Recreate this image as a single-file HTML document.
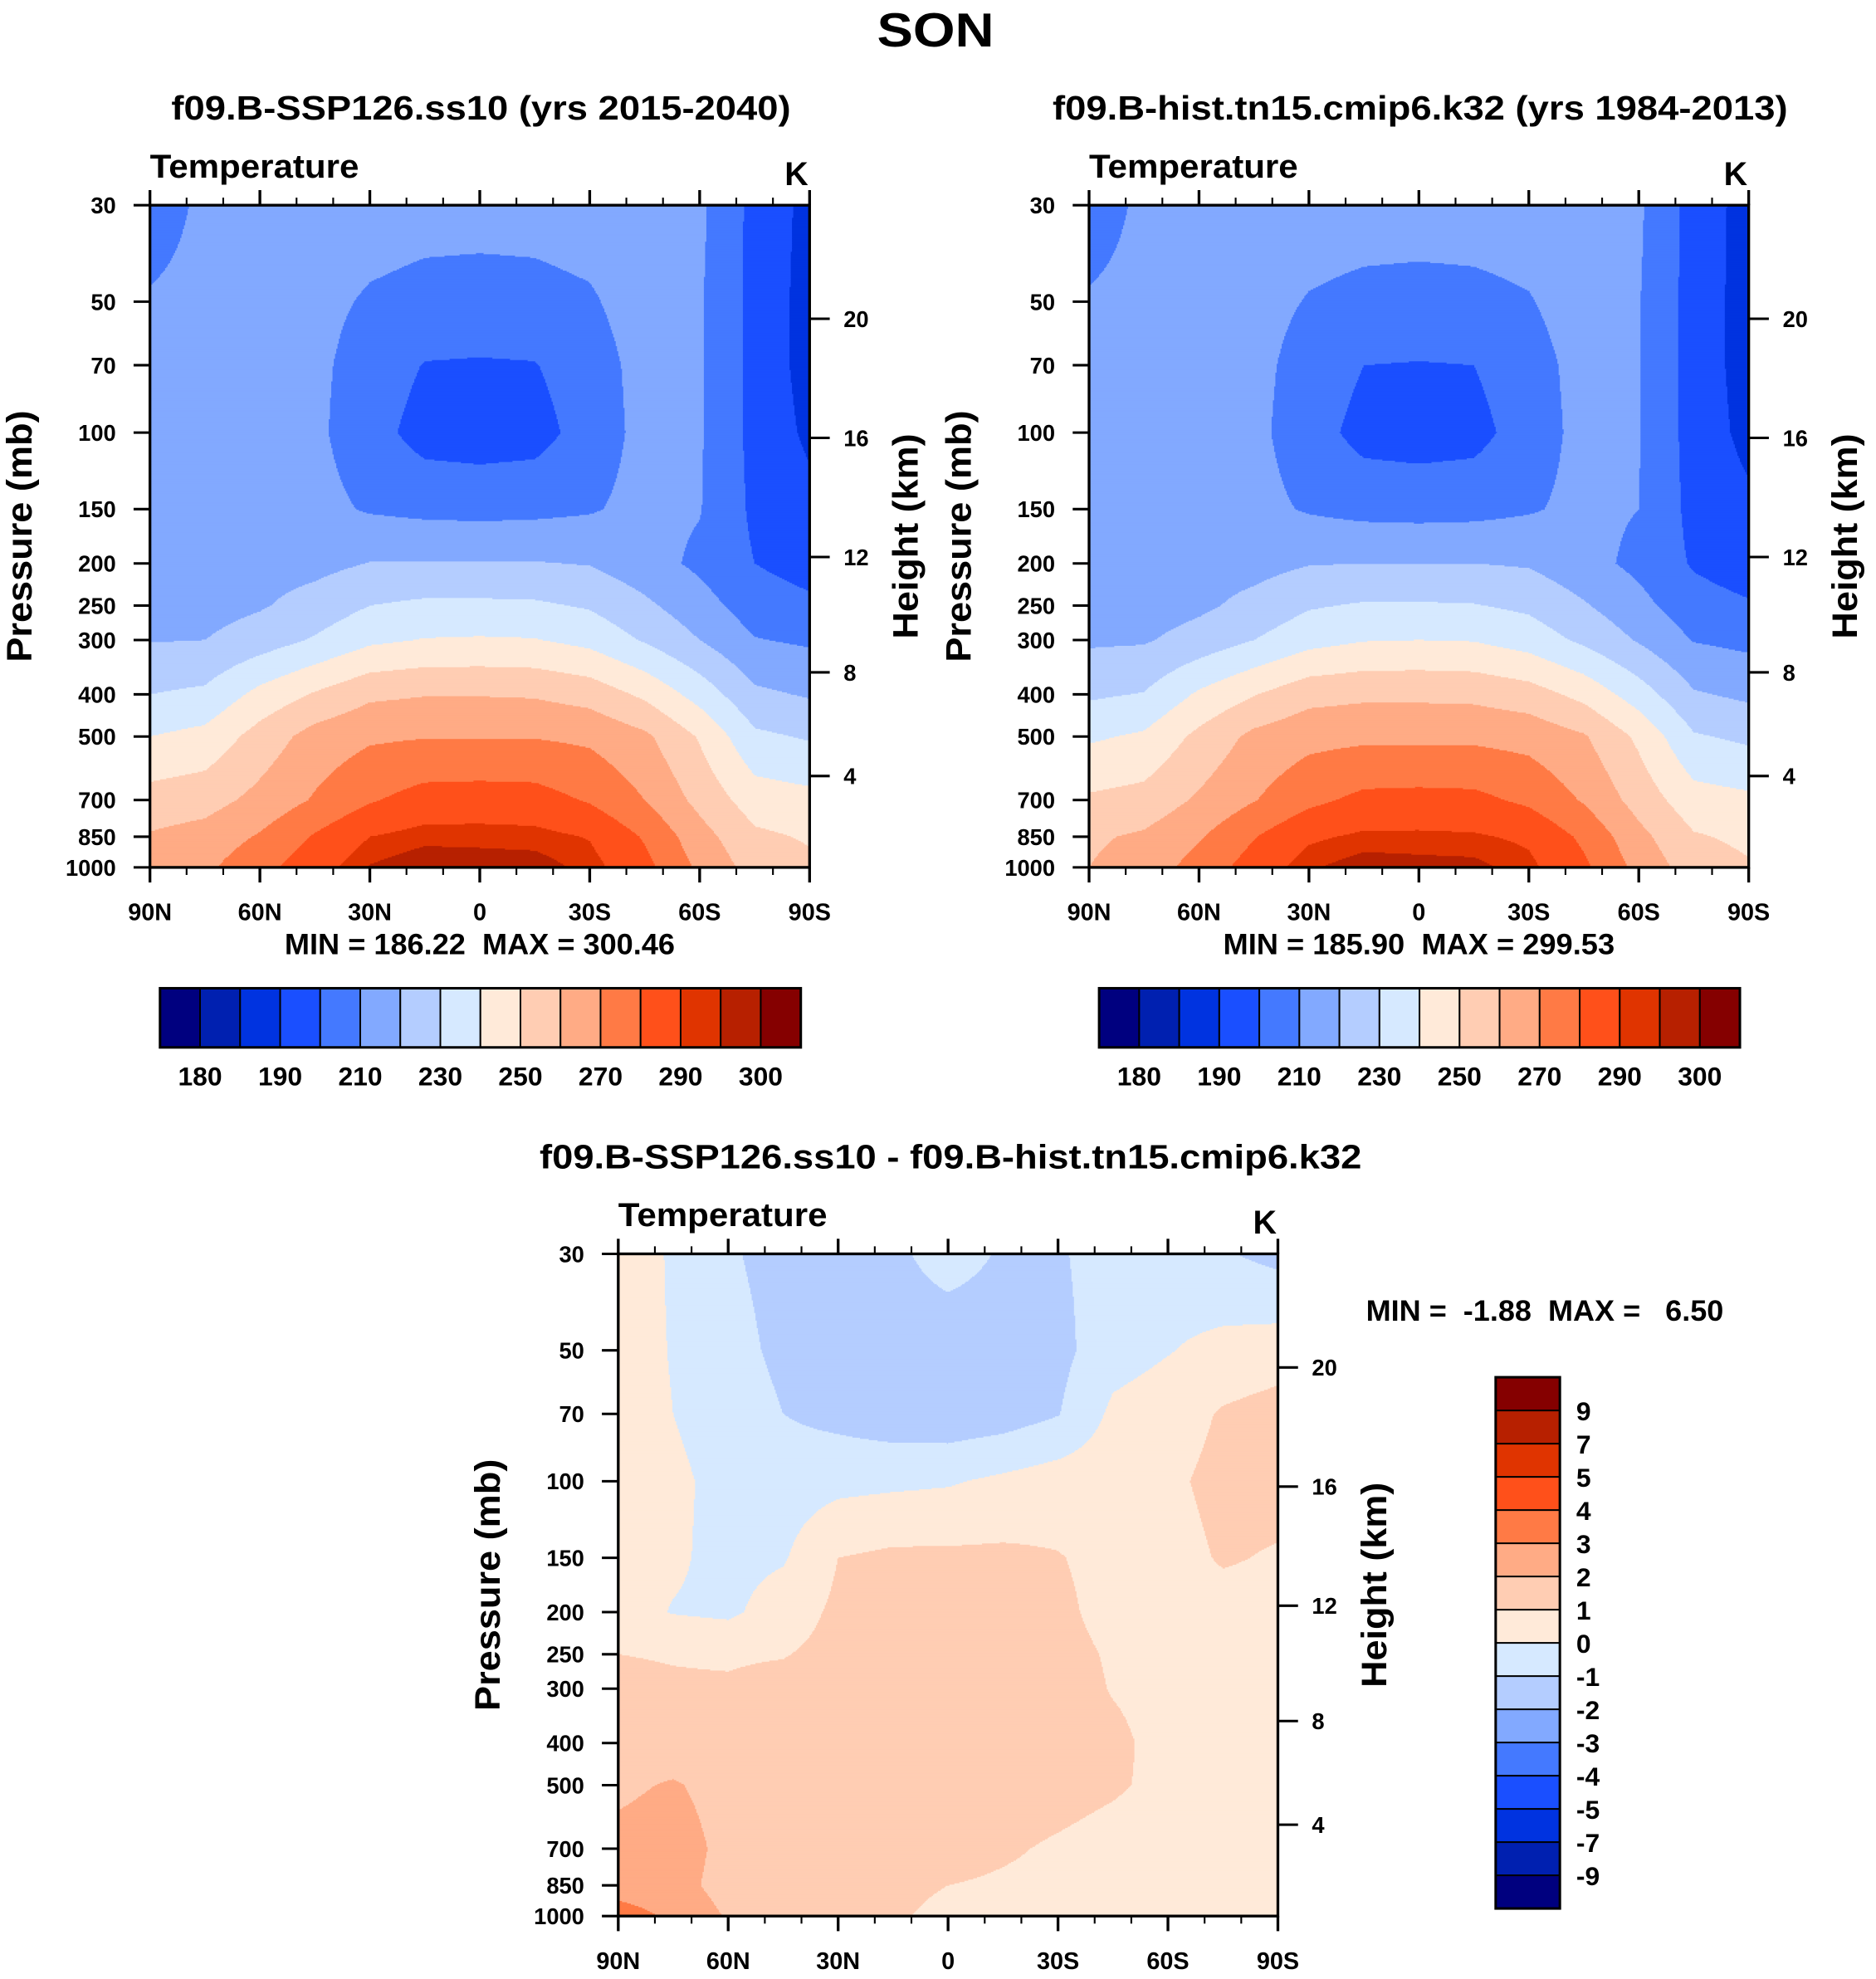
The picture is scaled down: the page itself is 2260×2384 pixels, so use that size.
<!DOCTYPE html>
<html><head><meta charset="utf-8"><style>
html,body{margin:0;padding:0;background:#fff;}
svg{display:block;}
text{font-family:"Liberation Sans",sans-serif;font-weight:bold;fill:#000;}
.n{font-family:"Liberation Sans Narrow","Liberation Sans",sans-serif;}
</style></head><body>
<svg id="fig" xmlns="http://www.w3.org/2000/svg" width="2260" height="2384" viewBox="0 0 1490 1572">
<rect width="1490" height="1572" fill="#fff"/>
<text x="743" y="37" text-anchor="middle" font-size="38" textLength="93" lengthAdjust="spacingAndGlyphs">SON</text>
<text x="382" y="95" text-anchor="middle" font-size="27" textLength="492" lengthAdjust="spacingAndGlyphs">f09.B-SSP126.ss10 (yrs 2015-2040)</text>
<text x="1128" y="95" text-anchor="middle" font-size="27" textLength="584" lengthAdjust="spacingAndGlyphs">f09.B-hist.tn15.cmip6.k32 (yrs 1984-2013)</text>
<text x="755" y="928" text-anchor="middle" font-size="27" textLength="653" lengthAdjust="spacingAndGlyphs">f09.B-SSP126.ss10 - f09.B-hist.tn15.cmip6.k32</text>
<g id="plots"></g>
</svg>
<script>
const palette = ["#00007f","#0020b0","#0033e0","#1a4fff","#4479ff","#82a9ff","#b4cdff","#d6e9ff","#ffead9","#ffcdb3","#ffab85","#ff7a45","#ff501a","#e03400","#b72000","#850000"];
const tempLevels = [180,185,190,200,210,220,230,240,250,260,270,280,290,295,300];
const tempLabels = ["180","190","210","230","250","270","290","300"];
const diffLevels = [-9,-7,-5,-4,-3,-2,-1,0,1,2,3,4,5,7,9];
const diffLabels = ["-9","-7","-5","-4","-3","-2","-1","0","1","2","3","4","5","7","9"];
const lats = [90,75,60,45,30,15,0,-15,-30,-45,-60,-75,-90];
const plevs = [30,50,70,100,150,200,250,300,400,500,700,850,1000];
const pressureTicks = [30,50,70,100,150,200,250,300,400,500,700,850,1000];
const heightTicks = [4,8,12,16,20];
const latTicks = [90,60,30,0,-30,-60,-90];
const latTickLabels = ["90N","60N","30N","0","30S","60S","90S"];
const sspTemp = [
 [205,212,215,215,214,213,213,213,214,214,212,197,187],
 [211,213,214,212.5,209,207.5,207,207.5,209,214,211,197,186],
 [212,214,214,212,206,199.5,199,199.5,206,213,211,197,186],
 [213,214,214,212,204,196,195,196,204.5,213,211,197,188],
 [214,215,215,213,209,207.5,207,207.5,209,213,210.5,198,193],
 [214,215,216,217,220.3,220.5,220.5,220.5,219.5,214,208,200,196],
 [215,216,219,224,230,232,232,231.5,229,222,214,205,202],
 [219.5,220,225,231,238,240.5,241,240.5,237,229,220,210.5,208.5],
 [230,232,243,251,258,259.5,259.5,259,256,248,236,222,219],
 [240,243,254,264,268.5,269.5,269.5,269.5,268,262,249,232,229],
 [254,256,263,271,279,284,284.5,284,279,270,257,245,243],
 [261,264,271,281,290,293,293,292.5,289.5,279,264,252,249],
 [264,268,277,286,295.5,299.5,298.5,298,293,283,268,256,252]
];
const histTemp = [
 [205,212,215,215,214,213.5,213.5,213.5,214,214,211.5,196,186],
 [211,213,214,213,209.5,208,207.5,208,209.5,214,210.5,196,185.5],
 [212,214,214,212.5,206.5,200,199.5,200,206.5,213,210.5,196,185.5],
 [213,214,214,212.5,204.5,196.5,195.5,196.5,205,213,210.5,196,187],
 [214,215,215,213,209,207,206.5,207,209,212.5,210,197,192],
 [214,215,216,216.5,219.5,220,220,220,219,213.5,207.5,199,195],
 [214,215,218,223,229,231,231,230.5,228,221,213,204,201],
 [218.5,219,224,230,236.5,239.5,240,239.5,235.5,228,219,209.5,207.5],
 [228.5,230.5,241.5,249.5,256.5,258,258,257.5,254.5,247,235,221,218],
 [238.5,241.5,252.5,262.5,267,268,268,268,266.5,261,248,231,228],
 [251.5,253.5,261.5,269.5,277.5,282.5,283,282.5,278,269,256,244,242],
 [258.5,261.5,269,279.5,288.5,291.5,291.5,291,288.5,278,263,251,248],
 [260,264.5,274,284.5,294,298.5,297.5,297,292,282,267,255,251]
];
const diffTemp = [
 [0.5,-0.1,-0.9,-1.3,-1.4,-1.2,-0.6,-1.1,-1.1,-0.6,-0.5,-0.9,-1.3],
 [0.4,-0.05,-0.7,-1.2,-1.5,-1.5,-1.6,-1.5,-1.3,-0.4,-0.05,0.3,0.5],
 [0.4,0.0,-0.5,-1.0,-1.3,-1.6,-1.7,-1.5,-1.05,0.2,0.5,1.1,1.4],
 [0.3,0.2,-0.3,-0.5,-0.3,-0.2,-0.1,0.2,0.5,0.6,0.8,1.3,1.4],
 [0.3,0.15,-0.3,-0.1,1.0,1.2,1.2,1.2,1.05,0.7,0.6,1.1,0.9],
 [0.4,-0.05,-0.2,0.5,1.2,1.4,1.4,1.4,1.2,0.7,0.5,0.6,0.6],
 [1.0,0.95,0.9,0.95,1.3,1.5,1.5,1.5,1.3,0.9,0.6,0.6,0.6],
 [1.2,1.1,1.1,1.3,1.5,1.6,1.6,1.6,1.4,0.95,0.7,0.6,0.6],
 [1.4,1.4,1.4,1.5,1.6,1.6,1.6,1.5,1.4,1.2,0.7,0.6,0.6],
 [1.8,2.1,1.6,1.5,1.5,1.5,1.5,1.4,1.3,1.1,0.8,0.6,0.6],
 [2.3,2.5,1.7,1.5,1.4,1.3,1.3,1.1,0.9,0.7,0.6,0.5,0.5],
 [2.5,2.4,1.6,1.4,1.3,1.2,1.0,0.9,0.8,0.6,0.5,0.5,0.5],
 [3.5,2.8,1.9,1.3,1.2,1.1,0.8,0.8,0.7,0.6,0.5,0.5,0.5]
];

const NS = "http://www.w3.org/2000/svg";
const root = document.getElementById("plots");
function mk(tag, attrs, parent) {
  const e = document.createElementNS(NS, tag);
  for (const k in attrs) e.setAttribute(k, attrs[k]);
  (parent || root).appendChild(e);
  return e;
}
function yOfP(p, y0, h) { return y0 + h * Math.log(p / 30) / Math.log(1000 / 30); }
function pOfY(y, y0, h) { return 30 * Math.exp((y - y0) / h * Math.log(1000 / 30)); }
function xOfLat(lat, x0, w) { return x0 + w * (90 - lat) / 180; }
function pOfZ(z) {
  const m = z * 1000;
  if (m <= 11000) return 1013.25 * Math.pow(1 - 2.25577e-5 * m, 5.25588);
  return 226.32 * Math.exp(-(m - 11000) / 6341.6);
}
function sample(data, lat, p) {
  let ci = (90 - lat) / 15; ci = Math.max(0, Math.min(lats.length - 1.0001, ci));
  const c0 = Math.floor(ci), ct = ci - c0;
  let r0 = 0;
  while (r0 < plevs.length - 2 && p > plevs[r0 + 1]) r0++;
  let rt = Math.log(p / plevs[r0]) / Math.log(plevs[r0 + 1] / plevs[r0]);
  rt = Math.max(0, Math.min(1, rt));
  const a = data[r0][c0], b = data[r0][c0 + 1], c = data[r0 + 1][c0], d = data[r0 + 1][c0 + 1];
  return (a * (1 - ct) + b * ct) * (1 - rt) + (c * (1 - ct) + d * ct) * rt;
}
function colorIndex(v, levels) {
  let i = 0;
  while (i < levels.length && v >= levels[i]) i++;
  return i;
}
function drawField(g, x0, y0, w, h, data, levels) {
  const step = 1;
  for (let py = 0; py < h; py += step) {
    const p = pOfY(y0 + py + step / 2, y0, h);
    let runStart = 0, runC = -1;
    for (let px = 0; px <= w; px += step) {
      let ci = -2;
      if (px < w) {
        const lat = 90 - 180 * (px + step / 2) / w;
        ci = colorIndex(sample(data, lat, p), levels);
      }
      if (ci !== runC) {
        if (runC >= 0) {
          const r = mk("rect", {x: x0 + runStart, y: y0 + py, width: px - runStart + 0.3, height: step + 0.3, fill: palette[runC]}, g);
          
          
        }
        runStart = px; runC = ci;
      }
    }
  }
}
function txt(s, attrs, parent) {
  const t = mk("text", attrs, parent); t.textContent = s; return t;
}
function drawPanel(name, x0, y0, data, levels) {
  const w = 524, h = 526;
  const g = mk("g", {});
  
  
  const fg = mk("g", {}, g);
  
  
  drawField(fg, x0, y0, w, h, data, levels);
  const box = mk("rect", {x: x0, y: y0, width: w, height: h, fill: "none", stroke: "#000", "stroke-width": 2.2}, g);
  
  
  for (let lat = 90; lat >= -90; lat -= 10) {
    const x = xOfLat(lat, x0, w);
    const major = (lat % 30 === 0);
    const L = major ? 12 : 6;
    const t1 = mk("line", {x1: x, x2: x, y1: y0, y2: y0 - L, stroke: "#000", "stroke-width": major ? 2.2 : 1.4}, g);
    
    
    const t2 = mk("line", {x1: x, x2: x, y1: y0 + h, y2: y0 + h + L, stroke: "#000", "stroke-width": major ? 2.2 : 1.4}, g);
    
    
  }
  latTicks.forEach((lat, i) => {
    const t = txt(latTickLabels[i], {x: xOfLat(lat, x0, w), y: y0 + h + 42, "text-anchor": "middle", "font-size": 19, class: "n"}, g);
    
    
  });
  pressureTicks.forEach(p => {
    const y = yOfP(p, y0, h);
    const l = mk("line", {x1: x0, x2: x0 - 13, y1: y, y2: y, stroke: "#000", "stroke-width": 2}, g);
    
    
    const t = txt(String(p), {x: x0 - 27, y: y + 6.5, "text-anchor": "end", "font-size": 18, class: "n"}, g);
    
    
  });
  heightTicks.forEach(z => {
    const y = yOfP(pOfZ(z), y0, h);
    const l = mk("line", {x1: x0 + w, x2: x0 + w + 16, y1: y, y2: y, stroke: "#000", "stroke-width": 2}, g);
    
    
    const t = txt(String(z), {x: x0 + w + 27, y: y + 6.5, "font-size": 18, class: "n"}, g);
    
    
  });
  const tt = txt("Temperature", {x: x0, y: y0 - 22, "font-size": 26, textLength: 166, lengthAdjust: "spacingAndGlyphs"}, g);
  
  
  const kk = txt("K", {x: x0 + w - 1, y: y0 - 16, "text-anchor": "end", "font-size": 26}, g);
  
  
  const py = txt("Pressure (mb)", {x: 0, y: 0, "text-anchor": "middle", "font-size": 28, textLength: 200, lengthAdjust: "spacingAndGlyphs", transform: `translate(${x0 - 94},${y0 + 263}) rotate(-90)`}, g);
  
  
  const hy = txt("Height (km)", {x: 0, y: 0, "text-anchor": "middle", "font-size": 28, textLength: 163, lengthAdjust: "spacingAndGlyphs", transform: `translate(${x0 + w + 86},${y0 + 263}) rotate(-90)`}, g);
  
  
  return g;
}
function hColorbar(name, x0, y0, w, h) {
  const g = mk("g", {});
  
  
  const bw = w / palette.length;
  palette.forEach((c, i) => {
    const r = mk("rect", {x: x0 + i * bw, y: y0, width: bw, height: h, fill: c, stroke: "#000", "stroke-width": 1.3}, g);
    
    
  });
  const f = mk("rect", {x: x0, y: y0, width: w, height: h, fill: "none", stroke: "#000", "stroke-width": 2}, g);
  
  
  tempLabels.forEach((s, k) => {
    const t = txt(s, {x: x0 + (2 * k + 1) * bw, y: y0 + 77, "text-anchor": "middle", "font-size": 21, class: "n"}, g);
    
    
  });
}
function vColorbar(name, x0, y0, w, h) {
  const g = mk("g", {});
  
  
  const bh = h / palette.length;
  palette.forEach((c, i) => {
    const r = mk("rect", {x: x0, y: y0 + h - (i + 1) * bh, width: w, height: bh, fill: c, stroke: "#000", "stroke-width": 1.3}, g);
    
    
  });
  const f = mk("rect", {x: x0, y: y0, width: w, height: h, fill: "none", stroke: "#000", "stroke-width": 2}, g);
  
  
  diffLabels.forEach((s, k) => {
    const t = txt(s, {x: x0 + 64, y: y0 + h - (k + 1) * bh + 8, "font-size": 21, class: "n"}, g);
    
    
  });
}
drawPanel("ssp-panel", 119, 163, sspTemp, tempLevels);
drawPanel("hist-panel", 865, 163, histTemp, tempLevels);
drawPanel("diff-panel", 491, 996, diffTemp, diffLevels);
hColorbar("ssp-colorbar", 127, 785, 509, 47);
hColorbar("hist-colorbar", 873, 785, 509, 47);
vColorbar("diff-colorbar", 1188, 1094, 51, 422);
let s;
s = txt("MIN = 186.22  MAX = 300.46", {x: 381, y: 758, "text-anchor": "middle", "font-size": 23, class: "n", textLength: 310, lengthAdjust: "spacingAndGlyphs"});
s.style.whiteSpace = "pre";


s = txt("MIN = 185.90  MAX = 299.53", {x: 1127, y: 758, "text-anchor": "middle", "font-size": 23, class: "n", textLength: 311, lengthAdjust: "spacingAndGlyphs"});
s.style.whiteSpace = "pre";


s = txt("MIN =  -1.88  MAX =   6.50", {x: 1085, y: 1049, "font-size": 23, class: "n", textLength: 284, lengthAdjust: "spacingAndGlyphs"});
s.style.whiteSpace = "pre";


</script>
</body></html>
